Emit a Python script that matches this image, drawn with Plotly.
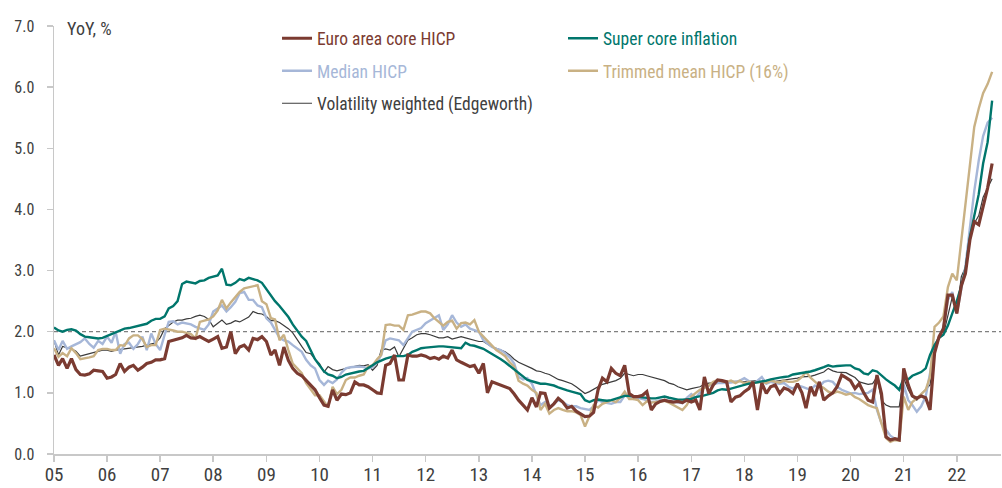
import plotly.graph_objects as go
import pandas as pd

# Monthly observations, Jan 2005 .. Sep 2022
dates = pd.date_range("2005-01-01", "2022-09-01", freq="MS")

euro_core = [
    1.62, 1.45, 1.56, 1.40, 1.56, 1.38, 1.30, 1.29, 1.31, 1.37, 1.36, 1.35,  # 2005
    1.24, 1.26, 1.30, 1.48, 1.35, 1.42, 1.45, 1.37, 1.42, 1.48, 1.50, 1.54,  # 2006
    1.54, 1.56, 1.84, 1.86, 1.87, 1.90, 1.94, 1.90, 1.89, 1.92, 1.88, 1.84,  # 2007
    1.88, 1.92, 1.73, 1.75, 2.00, 1.64, 1.75, 1.78, 1.70, 1.89, 1.87, 1.92,  # 2008
    1.84, 1.62, 1.70, 1.45, 1.75, 1.53, 1.40, 1.32, 1.28, 1.20, 1.12, 1.05,  # 2009
    0.92, 0.80, 0.78, 1.05, 0.88, 0.98, 0.97, 1.00, 1.18, 1.13, 1.13, 1.10,  # 2010
    1.05, 1.00, 0.99, 1.45, 1.48, 1.62, 1.21, 1.21, 1.62, 1.60, 1.60, 1.62,  # 2011
    1.60, 1.56, 1.58, 1.55, 1.60, 1.57, 1.70, 1.54, 1.50, 1.47, 1.43, 1.45,  # 2012
    1.32, 1.48, 1.00, 1.18, 1.15, 1.12, 1.10, 1.07, 0.98, 0.88, 0.80, 0.72,  # 2013
    0.92, 0.77, 1.00, 0.99, 0.75, 0.82, 0.91, 0.85, 0.75, 0.78, 0.70, 0.66,  # 2014
    0.61, 0.62, 0.68, 1.05, 1.24, 1.18, 1.40, 1.32, 1.28, 1.45, 0.99, 0.94,  # 2015
    0.94, 0.96, 1.02, 0.72, 0.82, 0.86, 0.88, 0.86, 0.85, 0.86, 0.84, 0.88,  # 2016
    0.85, 0.88, 0.72, 1.26, 0.99, 1.13, 1.21, 1.20, 1.18, 0.85, 0.93, 0.95,  # 2017
    1.02, 1.07, 1.18, 0.72, 1.16, 0.99, 1.10, 1.13, 0.99, 1.08, 1.05, 0.99,  # 2018
    1.15, 1.00, 0.75, 1.10, 0.95, 1.18, 0.88, 0.95, 1.00, 1.10, 1.29, 1.25,  # 2019
    1.20, 1.07, 1.15, 1.00, 0.88, 0.85, 1.29, 0.99, 0.28, 0.23, 0.25, 0.23,  # 2020
    1.40, 1.13, 0.95, 0.91, 0.95, 0.92, 0.72, 1.65, 1.92, 2.05, 2.60, 2.60,  # 2021
    2.30, 2.75, 2.95, 3.50, 3.80, 3.75, 4.05, 4.35, 4.75,                    # 2022
]

super_core = [
    2.07, 2.02, 2.00, 2.03, 2.04, 2.02, 1.96, 1.92, 1.91, 1.90, 1.89, 1.90,
    1.93, 1.97, 2.00, 2.03, 2.05, 2.06, 2.08, 2.09, 2.11, 2.13, 2.18, 2.21,
    2.21, 2.25, 2.38, 2.42, 2.50, 2.78, 2.82, 2.80, 2.79, 2.83, 2.84, 2.88,
    2.90, 2.92, 3.03, 2.77, 2.76, 2.80, 2.86, 2.84, 2.88, 2.86, 2.84, 2.80,
    2.70, 2.58, 2.50, 2.42, 2.33, 2.24, 2.12, 2.02, 1.92, 1.85, 1.70, 1.55,
    1.45, 1.35, 1.30, 1.28, 1.24, 1.26, 1.30, 1.32, 1.33, 1.35, 1.36, 1.40,
    1.45, 1.50, 1.53, 1.56, 1.58, 1.60, 1.60, 1.60, 1.62, 1.67, 1.70, 1.73,
    1.74, 1.75, 1.76, 1.76, 1.76, 1.75, 1.75, 1.74, 1.73, 1.82, 1.78, 1.77,
    1.75, 1.72, 1.68, 1.64, 1.60, 1.55, 1.50, 1.44, 1.38, 1.32, 1.26, 1.21,
    1.19, 1.17, 1.15, 1.15, 1.14, 1.12, 1.09, 1.06, 1.04, 1.02, 1.00, 0.98,
    0.88, 0.85, 0.88, 0.89, 0.88, 0.87, 0.88, 0.90, 0.92, 0.95, 0.95, 0.94,
    0.93, 0.92, 0.92, 0.91, 0.91, 0.93, 0.94, 0.92, 0.90, 0.89, 0.89, 0.89,
    0.90, 0.93, 0.95, 0.96, 0.98, 1.00, 1.04, 1.06, 1.05, 1.07, 1.10, 1.12,
    1.13, 1.15, 1.16, 1.17, 1.18, 1.20, 1.22, 1.24, 1.25, 1.26, 1.27, 1.30,
    1.31, 1.32, 1.33, 1.35, 1.37, 1.39, 1.42, 1.45, 1.43, 1.44, 1.45, 1.45,
    1.45, 1.40, 1.38, 1.32, 1.30, 1.37, 1.35, 1.28, 1.22, 1.17, 1.12, 1.05,
    1.24, 1.22, 1.28, 1.31, 1.34, 1.40, 1.62, 1.78, 1.90, 1.95, 2.10, 2.30,
    2.50, 2.75, 3.00, 3.55, 3.90, 4.25, 4.75, 5.10, 5.78,
]

median_hicp = [
    1.86, 1.70, 1.85, 1.72, 1.76, 1.80, 1.83, 1.89, 1.80, 1.74, 1.85, 1.80,
    1.92, 1.82, 2.00, 1.64, 1.80, 1.82, 1.72, 1.80, 1.92, 1.70, 1.97, 1.80,
    1.70, 1.95, 2.16, 2.17, 2.12, 2.15, 2.13, 2.12, 2.08, 2.05, 2.03, 2.12,
    2.33, 2.38, 2.43, 2.33, 2.40, 2.49, 2.63, 2.65, 2.52, 2.52, 2.43, 2.40,
    2.22, 2.15, 2.03, 1.90, 1.86, 1.84, 1.78, 1.72, 1.67, 1.54, 1.45, 1.40,
    1.21, 1.13, 1.20, 1.16, 1.22, 1.33, 1.40, 1.42, 1.43, 1.43, 1.42, 1.40,
    1.42, 1.50, 1.62, 1.86, 1.89, 1.88, 1.86, 1.78, 1.90, 2.00, 2.03, 2.06,
    2.14, 2.18, 2.22, 2.27, 2.03, 2.12, 2.27, 2.15, 2.08, 2.12, 2.05, 2.03,
    2.00, 1.86, 1.80, 1.75, 1.72, 1.70, 1.65, 1.58, 1.48, 1.26, 1.22, 1.24,
    1.15, 0.95, 0.80, 0.85, 0.77, 0.82, 0.88, 0.85, 0.80, 0.78, 0.78, 0.75,
    0.73, 0.72, 0.78, 0.88, 0.85, 0.83, 0.82, 0.85, 0.85, 0.96, 0.92, 0.90,
    0.92, 0.90, 0.88, 0.85, 0.86, 0.88, 0.88, 0.87, 0.86, 0.84, 0.83, 0.92,
    0.98, 0.92, 1.00, 1.10, 1.12, 1.14, 1.16, 1.16, 1.16, 1.17, 1.18, 1.20,
    1.24, 1.20, 1.15, 1.20, 1.26, 1.15, 1.18, 1.16, 1.15, 1.16, 1.10, 1.07,
    1.12, 1.10, 1.08, 1.05, 1.12, 1.10, 1.18, 1.20, 1.18, 1.10, 1.05, 1.02,
    0.99, 1.00, 0.98, 0.99, 1.00, 1.05, 0.72, 0.50, 0.40, 0.30, 0.25, 0.25,
    1.13, 0.88, 0.80, 0.69, 0.78, 0.94, 1.32, 1.75, 1.90, 2.08, 2.52, 2.65,
    2.30, 2.70, 3.06, 3.70, 4.30, 4.80, 5.20, 5.42, 5.50,
]

trimmed_mean = [
    1.73, 1.59, 1.65, 1.60, 1.73, 1.65, 1.55, 1.56, 1.58, 1.60, 1.70, 1.72,
    1.72, 1.70, 1.70, 1.78, 1.77, 1.89, 1.94, 1.94, 1.88, 1.75, 1.78, 1.78,
    2.03, 2.05, 2.04, 2.02, 2.00, 2.00, 1.98, 1.96, 1.89, 2.16, 2.18, 2.20,
    2.25, 2.35, 2.52, 2.38, 2.48, 2.57, 2.65, 2.71, 2.73, 2.74, 2.76, 2.50,
    2.45, 2.22, 2.20, 1.86, 1.95, 1.70, 1.48, 1.40, 1.32, 1.16, 1.05, 0.96,
    0.96, 0.85, 0.77, 1.10, 0.98, 1.05, 1.21, 1.25, 1.25, 1.28, 1.30, 1.43,
    1.45, 1.55, 1.62, 2.11, 2.12, 2.10, 2.10, 2.03, 2.27, 2.28, 2.30, 2.33,
    2.33, 2.30, 2.22, 2.16, 2.10, 2.16, 2.18, 2.05, 2.14, 2.15, 2.12, 2.19,
    2.00, 1.92, 1.85, 1.78, 1.70, 1.65, 1.60, 1.50, 1.43, 1.20, 1.15, 1.12,
    1.05, 1.00, 0.72, 0.82, 0.66, 0.72, 0.75, 0.72, 0.70, 0.70, 0.68, 0.64,
    0.45, 0.62, 0.80, 0.76, 0.82, 0.85, 0.88, 0.85, 0.92, 1.02, 0.90, 0.90,
    0.88, 0.80, 0.86, 0.84, 0.85, 0.86, 0.87, 0.84, 0.80, 0.75, 0.72, 0.80,
    0.94, 1.00, 1.05, 1.08, 1.12, 1.18, 1.21, 1.19, 1.18, 1.20, 1.16, 1.20,
    1.15, 1.18, 1.16, 1.17, 1.18, 1.16, 1.20, 1.18, 1.17, 1.20, 1.18, 1.18,
    1.20, 1.26, 1.34, 1.25, 1.18, 1.12, 1.08, 1.02, 0.99, 1.02, 1.00, 0.97,
    0.99, 0.93, 0.90, 0.85, 0.80, 0.77, 0.75, 0.50, 0.26, 0.20, 0.23, 0.22,
    0.94, 0.72, 0.85, 0.91, 0.98, 1.05, 1.26, 2.08, 2.15, 2.25, 2.73, 2.95,
    2.84, 3.50, 4.15, 4.80, 5.35, 5.65, 5.90, 6.05, 6.25,
]

volatility_weighted = [
    1.86, 1.62, 1.76, 1.74, 1.72, 1.68, 1.60, 1.62, 1.64, 1.66, 1.68, 1.70,
    1.70, 1.68, 1.70, 1.71, 1.72, 1.73, 1.73, 1.74, 1.76, 1.78, 1.80, 1.82,
    1.90, 2.05, 2.10, 2.16, 2.19, 2.19, 2.21, 2.22, 2.25, 2.27, 2.25, 2.20,
    2.08, 2.14, 2.19, 2.12, 2.14, 2.18, 2.16, 2.20, 2.24, 2.33, 2.30, 2.29,
    2.25, 2.18, 2.18, 2.15, 2.10, 2.05, 1.98, 1.86, 1.76, 1.66, 1.64, 1.55,
    1.48, 1.34, 1.43, 1.38, 1.36, 1.38, 1.40, 1.42, 1.44, 1.45, 1.44, 1.46,
    1.37, 1.45, 1.70, 1.72, 1.70, 1.75, 1.59, 1.72, 1.86, 1.90, 1.95, 1.97,
    1.97, 1.95, 1.92, 1.90, 1.90, 1.92, 1.88, 1.90, 1.92, 1.90, 1.88, 1.86,
    1.84, 1.84, 1.80, 1.75, 1.73, 1.70, 1.67, 1.62, 1.55, 1.50, 1.47, 1.44,
    1.40, 1.36, 1.35, 1.32, 1.30, 1.26, 1.22, 1.20, 1.18, 1.15, 1.10, 1.05,
    0.99, 1.02, 1.06, 1.10, 1.14, 1.16, 1.18, 1.20, 1.24, 1.32, 1.30, 1.28,
    1.30, 1.30, 1.28, 1.26, 1.24, 1.22, 1.20, 1.16, 1.14, 1.10, 1.08, 1.05,
    1.07, 1.08, 1.10, 1.14, 1.16, 1.16, 1.17, 1.17, 1.18, 1.19, 1.19, 1.18,
    1.18, 1.19, 1.20, 1.20, 1.18, 1.19, 1.20, 1.19, 1.20, 1.20, 1.21, 1.23,
    1.24, 1.26, 1.26, 1.27, 1.29, 1.31, 1.34, 1.40, 1.36, 1.34, 1.33, 1.33,
    1.29, 1.25, 1.18, 1.16, 1.14, 1.15, 1.26, 0.88, 0.80, 0.77, 0.77, 0.77,
    1.24, 1.05, 0.94, 0.88, 0.98, 1.05, 1.13, 1.64, 1.89, 1.95, 2.27, 2.57,
    2.30, 2.90, 3.05, 3.52, 3.77, 3.90, 4.20, 4.35, 4.50,
]

series_names = [
    "Euro area core HICP",
    "Super core inflation",
    "Median HICP",
    "Trimmed mean HICP (16%)",
    "Volatility weighted (Edgeworth)",
]
y_tick_values = [0, 1, 2, 3, 4, 5, 6, 7]
target_line = 2.0

FONT = "Roboto Condensed, Roboto, Liberation Sans, sans-serif"
TEXT = "#404040"

line_colors = ["#7b3b31", "#00766c", "#a6b7d8", "#c9b184", "#3c3c3c"]
text_colors = ["#7b3b31", "#00766c", "#a6b7d8", "#c9b184", "#404040"]
line_widths = [3.2, 2.4, 2.4, 2.4, 1.2]
legend_ids = ["legend", "legend2", "legend", "legend2", "legend"]
values = [euro_core, super_core, median_hicp, trimmed_mean, volatility_weighted]

fig = go.Figure()
draw_order = [4, 2, 3, 1, 0]
for i in draw_order:
    fig.add_trace(go.Scatter(
        x=dates, y=values[i], mode="lines",
        name=f"<span style='color:{text_colors[i]}'>{series_names[i]}</span>",
        line=dict(color=line_colors[i], width=line_widths[i]),
        legend=legend_ids[i], legendgroup=f"g{i}", legendrank=i + 1,
        hoverinfo="skip",
    ))

fig.add_hline(y=target_line, line=dict(color="#808080", width=1.2, dash="4px,3px"), layer="below")

fig.add_annotation(text="YoY, %", xref="paper", yref="paper", x=0.012, y=0.993,
                   xanchor="left", yanchor="middle", showarrow=False,
                   font=dict(family=FONT, size=18, color=TEXT))

legend_common = dict(
    orientation="v", yanchor="top", xanchor="left",
    itemwidth=30, tracegroupgap=6.75, borderwidth=0,
    font=dict(family=FONT, size=17.5, color=TEXT), bgcolor="rgba(0,0,0,0)",
    itemclick=False, itemdoubleclick=False,
)

fig.update_layout(
    width=1002, height=488,
    margin=dict(l=54, r=1, t=26, b=34, autoexpand=False),
    paper_bgcolor="white", plot_bgcolor="white",
    font=dict(family=FONT, size=17, color=TEXT),
    showlegend=True,
    legend=dict(x=0.2355, y=1.0131, **legend_common),
    legend2=dict(x=0.5375, y=1.0131, **legend_common),
    xaxis=dict(
        type="date", range=["2005-01-01", "2022-11-01"],
        dtick="M12", tick0="2005-01-01", tickformat="%y",
        showgrid=False, zeroline=False, automargin=False,
        showline=True, linecolor="#c8c8c8", linewidth=1.5,
        ticks="outside", ticklen=6, tickcolor="#c8c8c8", tickwidth=1.5,
        tickfont=dict(family=FONT, size=19, color=TEXT),
        ticklabelstandoff=-3,
    ),
    yaxis=dict(
        range=[0, 7], tickvals=y_tick_values, tickformat=".1f",
        showgrid=False, zeroline=False, automargin=False,
        showline=True, linecolor="#c8c8c8", linewidth=1.5,
        ticks="outside", ticklen=6, tickcolor="#c8c8c8", tickwidth=1.5,
        tickfont=dict(family=FONT, size=16, color=TEXT),
        ticklabelstandoff=9,
    ),
)

fig.write_html(
    "out.html",
    config={"displayModeBar": False, "staticPlot": True},
    post_script="document.body.style.margin='0';document.body.style.overflow='hidden';",
)
